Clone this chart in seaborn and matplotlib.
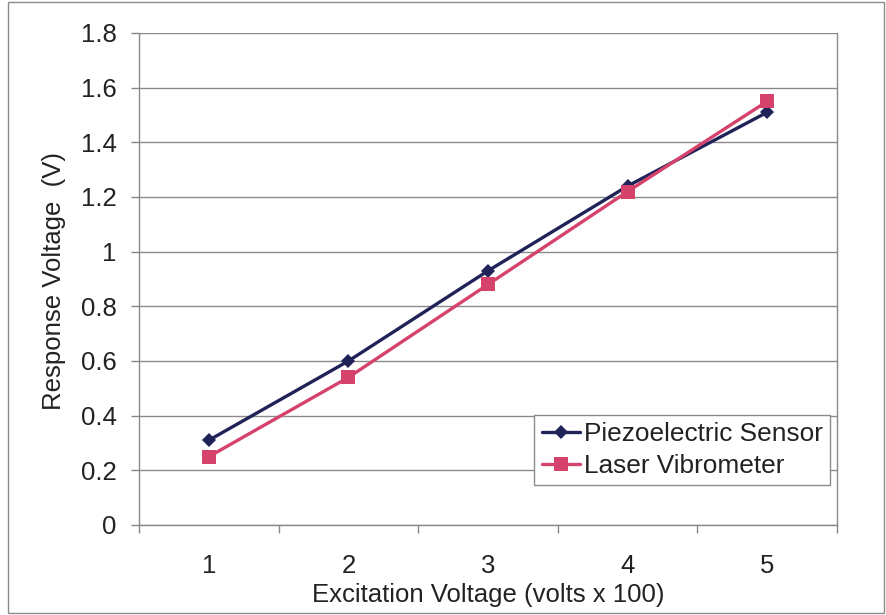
import matplotlib
matplotlib.use("Agg")
import matplotlib.pyplot as plt
import seaborn as sns
import pandas as pd
from matplotlib.patches import Rectangle

excitation = [1, 2, 3, 4, 5]
piezo = [0.31, 0.60, 0.93, 1.24, 1.51]
laser = [0.25, 0.54, 0.88, 1.22, 1.55]
series_names = ["Piezoelectric Sensor", "Laser Vibrometer"]
y_ticks = [0, 0.2, 0.4, 0.6, 0.8, 1, 1.2, 1.4, 1.6, 1.8]
y_tick_labels = ["0", "0.2", "0.4", "0.6", "0.8", "1", "1.2", "1.4", "1.6", "1.8"]

df = pd.DataFrame({
    "x": excitation * 2,
    "y": piezo + laser,
    "series": [series_names[0]] * 5 + [series_names[1]] * 5,
})

sns.set_theme(style="white")
plt.rcParams["font.family"] = ["Liberation Sans", "DejaVu Sans"]

FS = 18.5
fig = plt.figure(figsize=(8.87, 6.15), dpi=100)
ax = fig.add_axes([139 / 887, 1 - 525 / 615, (837 - 139) / 887, (525 - 33) / 615])

navy = "#1f2358"
pink = "#d5426c"
sns.lineplot(data=df, x="x", y="y", hue="series", style="series",
             palette={series_names[0]: navy, series_names[1]: pink},
             markers={series_names[0]: "D", series_names[1]: "s"},
             dashes=False, linewidth=2.4, markeredgewidth=0,
             markersize=8, ax=ax, legend=True)
for line in ax.get_lines():
    if line.get_marker() == "D":
        line.set_markersize(7.5)
    elif line.get_marker() == "s":
        line.set_markersize(9.5)

ax.set_xlim(0.5, 5.5)
ax.set_ylim(0, 1.8)
ax.set_yticks(y_ticks)
ax.set_yticklabels(y_tick_labels)
ax.set_xticks(excitation)
ax.set_xticklabels([str(v) for v in excitation])
ax.set_xticks([0.5, 1.5, 2.5, 3.5, 4.5, 5.5], minor=True)
ax.tick_params(axis="x", which="major", length=0, pad=21, labelsize=FS, colors="#222222")
ax.tick_params(axis="x", which="minor", length=6, width=1, color="#888888", bottom=True, direction="out")
ax.tick_params(axis="y", which="major", length=6, width=1, color="#888888", left=True, direction="out", pad=10, labelsize=FS, colors="#222222")

ax.yaxis.grid(True, color="#8a8a8a", linewidth=1)
ax.xaxis.grid(False)
ax.set_axisbelow(True)
for side in ["left", "bottom", "right"]:
    ax.spines[side].set_visible(True)
    ax.spines[side].set_color("#8a8a8a")
    ax.spines[side].set_linewidth(1)
ax.spines["top"].set_visible(False)

ax.set_xlabel("Excitation Voltage (volts x 100)", fontsize=FS, color="#222222")
ax.set_ylabel("Response Voltage  (V)", fontsize=FS, color="#222222")
ax.xaxis.set_label_coords(0.5, -0.142)
ax.xaxis.label.set_va("center")
ax.yaxis.set_label_coords(-0.122, 0.495)
ax.yaxis.label.set_va("center")

leg = ax.legend(loc="lower right", bbox_to_anchor=(0.990, 0.081), fontsize=18.9,
                frameon=True, fancybox=False, framealpha=1, edgecolor="#8a8a8a",
                handlelength=1.45, handletextpad=0.15, borderpad=0.28, labelspacing=0.28,
                borderaxespad=0)
leg.get_frame().set_linewidth(1)
for t in leg.get_texts():
    t.set_color("#222222")

fig.patches.append(Rectangle((8 / 887, 2 / 615), 876 / 887, 611 / 615, transform=fig.transFigure,
                             fill=False, edgecolor="#8a8a8a", linewidth=1))

fig.savefig("out.png", dpi=100, facecolor="white")
